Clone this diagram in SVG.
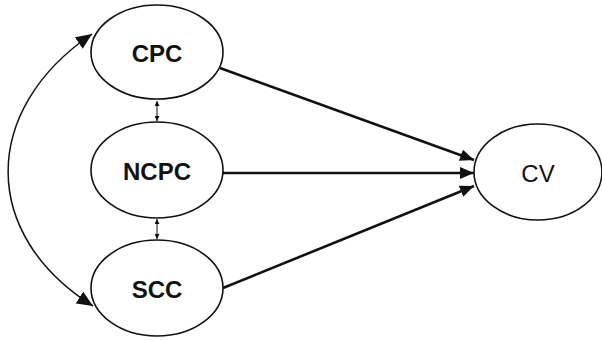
<svg xmlns="http://www.w3.org/2000/svg" width="602" height="341" viewBox="0 0 602 341">
<style>
.node ellipse{fill:#fff;stroke:#111;stroke-width:1.6}
.lbl{font-family:"Liberation Sans",Arial,sans-serif;font-size:24px;fill:#111;text-anchor:middle;dominant-baseline:central}
.b{font-weight:bold}
.main{stroke:#111;stroke-width:2.6;fill:none}
.thin{stroke:#111;stroke-width:1.5;fill:none}
.tiny{stroke:#111;stroke-width:1;fill:none}
</style>
<defs>
<marker id="big" markerUnits="userSpaceOnUse" markerWidth="14" markerHeight="12" viewBox="0 0 14 12" refX="14" refY="6" orient="auto">
<path d="M0,0 L14,6 L0,12 Z" fill="#111"/>
</marker>
<marker id="mid" markerUnits="userSpaceOnUse" markerWidth="16" markerHeight="14" viewBox="0 0 16 14" refX="16" refY="7" orient="auto-start-reverse">
<path d="M0,0 L16,7 L0,14 Z" fill="#111"/>
</marker>
<marker id="sm" markerUnits="userSpaceOnUse" markerWidth="5" markerHeight="5" viewBox="0 0 5 5" refX="5" refY="2.5" orient="auto-start-reverse">
<path d="M0,0 L5,2.5 L0,5 Z" fill="#111"/>
</marker>
</defs>
<g id="connectors">
<path class="main" d="M220,68 L474,160" marker-end="url(#big)"/>
<path class="main" d="M223,173 L474,173" marker-end="url(#big)"/>
<path class="main" d="M223,288 L474,186" marker-end="url(#big)"/>
<path class="thin" d="M92,34 C-20,110 -20,235 93,306" marker-start="url(#mid)" marker-end="url(#mid)"/>
<path class="tiny" d="M157,101 L157,121" marker-start="url(#sm)" marker-end="url(#sm)"/>
<path class="tiny" d="M157,219 L157,239" marker-start="url(#sm)" marker-end="url(#sm)"/>
</g>
<g id="CPC" class="node"><ellipse cx="157" cy="52" rx="66" ry="47"/><text class="lbl b" x="157" y="53">CPC</text></g>
<g id="NCPC" class="node"><ellipse cx="157" cy="170" rx="66" ry="48"/><text class="lbl b" x="157" y="171">NCPC</text></g>
<g id="SCC" class="node"><ellipse cx="157" cy="288" rx="66" ry="48"/><text class="lbl b" x="157" y="289">SCC</text></g>
<g id="CV" class="node"><ellipse cx="538" cy="172" rx="64" ry="48"/><text class="lbl" x="538" y="173">CV</text></g>
</svg>
